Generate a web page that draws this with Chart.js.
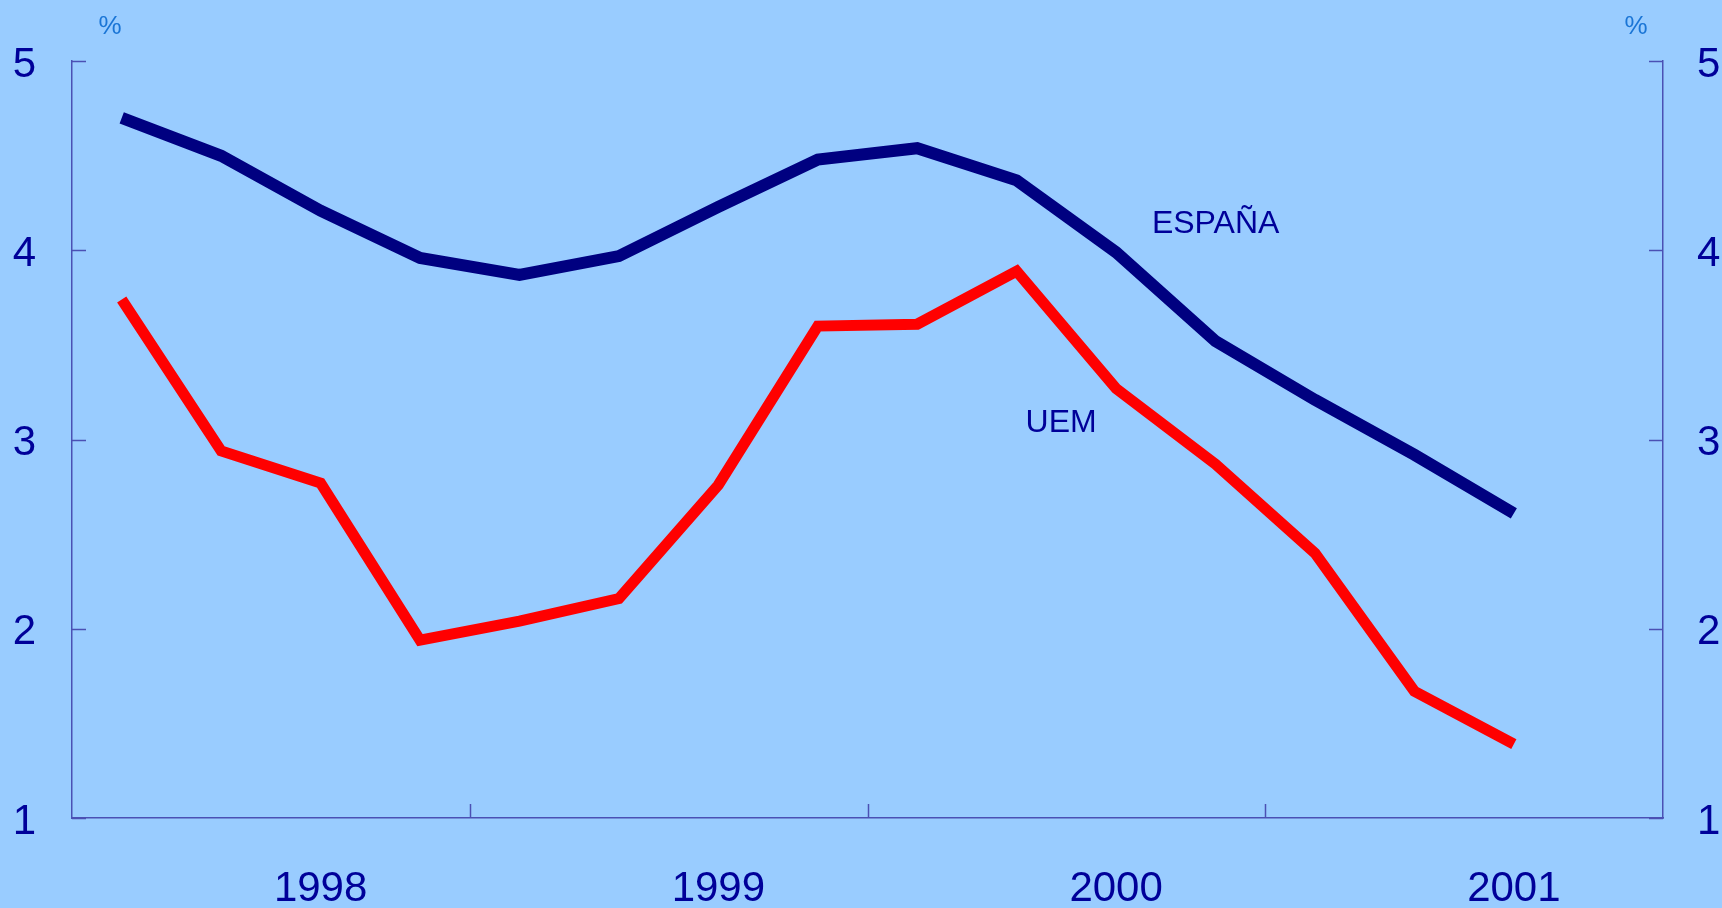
<!DOCTYPE html>
<html>
<head>
<meta charset="utf-8">
<script src="https://cdn.jsdelivr.net/npm/chart.js@4"></script>
<style>
  html, body { margin: 0; padding: 0; background: #99ccff; }
  canvas { display: block; }
</style>
</head>
<body>
<canvas id="c" width="1722" height="908"></canvas>
<script>
// Quarterly categories (1998 Q1 .. 2001 Q4)
const categories = ['1998 I','1998 II','1998 III','1998 IV','1999 I','1999 II','1999 III','1999 IV',
                    '2000 I','2000 II','2000 III','2000 IV','2001 I','2001 II','2001 III','2001 IV'];
const yearLabels = ['1998','1999','2000','2001'];
const espana = [4.70,4.50,4.21,3.96,3.87,3.97,4.23,4.48,4.54,4.37,3.99,3.52,3.21,2.92,2.61,null];
const uem    = [3.74,2.94,2.77,1.94,2.04,2.16,2.76,3.60,3.61,3.89,3.27,2.87,2.40,1.67,1.39,null];
const yTicks = [1,2,3,4,5];

const FONT = "'Liberation Sans', Arial, sans-serif";
const AXIS_COLOR = '#4b50b4';
const TEXT_COLOR = '#000099';

const annotations = [
  { text: 'ESPAÑA', x: 10.36, y: 4.09 },
  { text: 'UEM',    x: 9.09,  y: 3.04 }
];

const decorPlugin = {
  id: 'decor',
  afterDraw(chart) {
    const ctx = chart.ctx;
    const ca = chart.chartArea;
    const xs = chart.scales.x, ys = chart.scales.y;
    ctx.save();
    ctx.strokeStyle = AXIS_COLOR;
    ctx.lineWidth = 1.5;
    const tl = 14;
    ctx.beginPath();
    yTicks.forEach(v => {
      const py = Math.round(ys.getPixelForValue(v)) + 0.5;
      ctx.moveTo(ca.left, py); ctx.lineTo(ca.left + tl, py);
      ctx.moveTo(ca.right - tl, py); ctx.lineTo(ca.right, py);
    });
    for (let k = 4; k < categories.length; k += 4) {
      const px = Math.round((xs.getPixelForValue(k - 1) + xs.getPixelForValue(k)) / 2) + 0.5;
      ctx.moveTo(px, ca.bottom); ctx.lineTo(px, ca.bottom - tl);
    }
    ctx.stroke();

    // % signs
    ctx.fillStyle = '#1a75d6';
    ctx.font = '26px ' + FONT;
    ctx.textAlign = 'center';
    ctx.textBaseline = 'middle';
    ctx.fillText('%', ca.left + 38, ca.top - 34);
    ctx.fillText('%', ca.right - 27, ca.top - 34);

    // series labels
    ctx.fillStyle = TEXT_COLOR;
    ctx.font = '32px ' + FONT;
    ctx.textAlign = 'left';
    ctx.textBaseline = 'alphabetic';
    annotations.forEach(a => {
      ctx.fillText(a.text, xs.getPixelForValue(a.x), ys.getPixelForValue(a.y));
    });
    ctx.restore();
  }
};

new Chart(document.getElementById('c'), {
  type: 'line',
  data: {
    labels: categories,
    datasets: [
      { label: 'ESPAÑA', data: espana, borderColor: '#000080', borderWidth: 12,
        pointRadius: 0, tension: 0, yAxisID: 'y', spanGaps: false },
      { label: 'UEM', data: uem, borderColor: '#ff0000', borderWidth: 11,
        pointRadius: 0, tension: 0, yAxisID: 'y', spanGaps: false }
    ]
  },
  options: {
    responsive: false,
    animation: false,
    devicePixelRatio: 1,
    layout: { padding: { top: 60, left: 0, right: 0, bottom: 0 } },
    plugins: { legend: { display: false }, tooltip: { enabled: false } },
    scales: {
      x: {
        type: 'category',
        offset: true,
        grid: { display: false, drawTicks: false },
        border: { display: true, color: AXIS_COLOR, width: 1.5 },
        ticks: {
          autoSkip: false, maxRotation: 0, minRotation: 0, padding: 46,
          color: TEXT_COLOR, font: { family: FONT, size: 42 },
          callback: (v, i) => (i % 4 === 2 ? yearLabels[Math.floor(i / 4)] : '')
        },
        afterFit: s => { s.height = 90; }
      },
      y: {
        position: 'left', min: 1, max: 5,
        grid: { display: false, drawTicks: false },
        border: { display: true, color: AXIS_COLOR, width: 1.5 },
        ticks: { stepSize: 1, padding: 36, labelOffset: 4, color: TEXT_COLOR, font: { family: FONT, size: 42 } },
        afterFit: s => { s.width = 72; }
      },
      y2: {
        position: 'right', min: 1, max: 5,
        grid: { display: false, drawTicks: false },
        border: { display: true, color: AXIS_COLOR, width: 1.5 },
        ticks: { stepSize: 1, padding: 34, labelOffset: 4, color: TEXT_COLOR, font: { family: FONT, size: 42 } },
        afterFit: s => { s.width = 59; }
      }
    }
  },
  plugins: [decorPlugin]
});
</script>
</body>
</html>
